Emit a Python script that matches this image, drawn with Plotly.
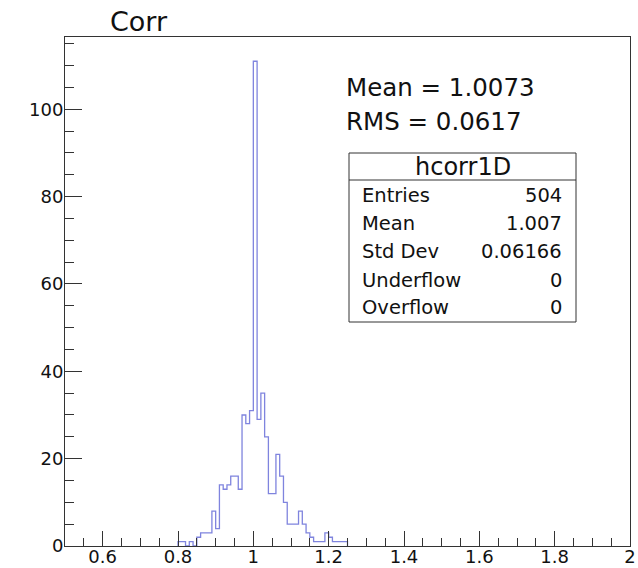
import numpy as np
import plotly.graph_objects as go

# Histogram "hcorr1D": bin width 0.01, lower edges starting at 0.80
bin_width = 0.01
first_edge = 0.80
counts = [1, 1, 0, 1, 0, 2, 3, 3, 3, 8,
          4, 14, 13, 14, 16, 16, 13, 30, 28, 31,
          111, 29, 35, 25, 12, 12, 21, 16, 10, 5,
          5, 5, 8, 5, 3, 2, 1, 1, 1, 3,
          2, 1, 1, 1, 1]

title_text = "Corr"
summary_lines = ["Mean = 1.0073", "RMS = 0.0617"]
stats_name = "hcorr1D"
stats_labels = ["Entries", "Mean", "Std Dev", "Underflow", "Overflow"]
stats_values = ["504", "1.007", "0.06166", "0", "0"]

x_ticks = [0.6, 0.8, 1.0, 1.2, 1.4, 1.6, 1.8, 2.0]
x_ticktext = ["0.6", "0.8", "1", "1.2", "1.4", "1.6", "1.8", "2"]
y_ticks = [0, 20, 40, 60, 80, 100]

# step outline of the histogram
edges = np.round(first_edge + bin_width * np.arange(len(counts) + 1), 4)
xs = [edges[0]] + list(edges[:-1]) + [edges[-1], edges[-1]]
ys = [0] + list(counts) + [counts[-1], 0]

fig = go.Figure()
fig.add_trace(go.Scatter(
    x=xs, y=ys, mode="lines", line_shape="hv",
    line=dict(color="#7f84de", width=1.3),
    hoverinfo="skip", showlegend=False,
))

ymax = 1.05 * max(counts)

# plot frame in pixels, for placing the text boxes
L, R, T, B = 65, 630, 37, 546
W_PX, H_PX = 638, 568


def px(X):
    return (X - L) / (R - L)


def py(Y):
    return (B - Y) / (B - T)


FONT = "DejaVu Sans"
annotations = []
annotations.append(dict(x=px(108), y=py(22), xref="paper", yref="paper",
                        text=title_text, showarrow=False, xanchor="left",
                        yanchor="middle", font=dict(family=FONT, size=27, color="#111")))
for i, line in enumerate(summary_lines):
    annotations.append(dict(x=px(344), y=py(87 + 35 * i), xref="paper", yref="paper",
                            text=line, showarrow=False, xanchor="left",
                            yanchor="middle", font=dict(family=FONT, size=24.5, color="#111")))

# statistics box
bx0, bx1, by0, by1, bhead = 349, 576, 153, 322, 180
shapes = [
    dict(type="rect", xref="paper", yref="paper", x0=px(bx0), x1=px(bx1),
         y0=py(by1), y1=py(by0), line=dict(color="#333", width=1), fillcolor="white"),
    dict(type="line", xref="paper", yref="paper", x0=px(bx0), x1=px(bx1),
         y0=py(bhead), y1=py(bhead), line=dict(color="#333", width=1)),
]
annotations.append(dict(x=px((bx0 + bx1) / 2), y=py(167), xref="paper", yref="paper",
                        text=stats_name, showarrow=False, xanchor="center",
                        yanchor="middle", font=dict(family=FONT, size=24, color="#111")))
for i, (lab, val) in enumerate(zip(stats_labels, stats_values)):
    yy = py(196 + 28 * i)
    annotations.append(dict(x=px(360), y=yy, xref="paper", yref="paper", text=lab,
                            showarrow=False, xanchor="left", yanchor="middle",
                            font=dict(family=FONT, size=19.5, color="#111")))
    annotations.append(dict(x=px(564), y=yy, xref="paper", yref="paper", text=val,
                            showarrow=False, xanchor="right", yanchor="middle",
                            font=dict(family=FONT, size=19.5, color="#111")))

fig.update_layout(
    width=W_PX, height=H_PX,
    margin=dict(l=L, r=W_PX - R, t=T, b=H_PX - B),
    paper_bgcolor="white", plot_bgcolor="white",
    shapes=shapes, annotations=annotations,
    font=dict(family=FONT, size=18, color="#111"),
)
fig.update_xaxes(
    range=[0.5, 2.0], tickvals=x_ticks, ticktext=x_ticktext,
    ticks="inside", ticklen=15, tickwidth=1, tickcolor="#333",
    minor=dict(dtick=0.05, tick0=0.5, ticks="inside", ticklen=8, tickcolor="#333"),
    showline=True, linecolor="#333", linewidth=1, mirror=True,
    showgrid=False, zeroline=False, ticklabelstandoff=-6, automargin=False,
)
fig.update_yaxes(
    range=[0, ymax], tickvals=y_ticks,
    ticks="inside", ticklen=17, tickwidth=1, tickcolor="#333",
    minor=dict(dtick=5, tick0=0, ticks="inside", ticklen=9, tickcolor="#333"),
    showline=True, linecolor="#333", linewidth=1, mirror=True,
    showgrid=False, zeroline=False, ticklabelstandoff=-3, automargin=False,
)

fig.write_html("out.html")
